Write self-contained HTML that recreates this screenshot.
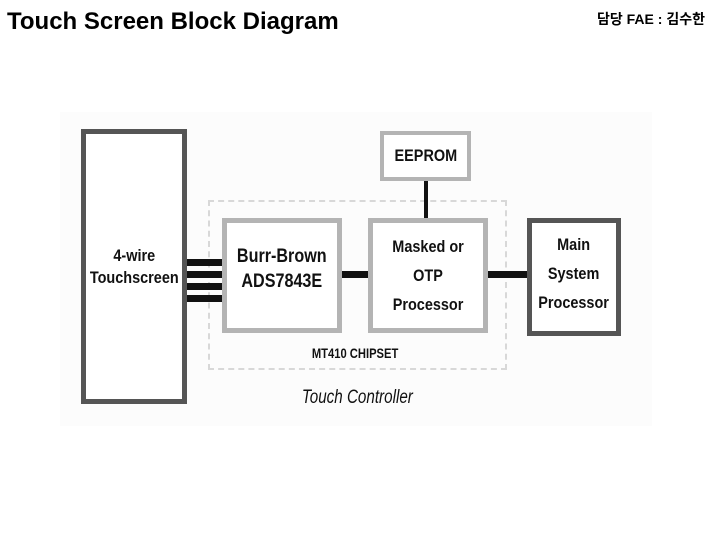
<!DOCTYPE html>
<html><head><meta charset="utf-8"><style>
body{margin:0;width:720px;height:540px;background:#fff;position:relative;overflow:hidden;font-family:"Liberation Sans",sans-serif}
.a{position:absolute;box-sizing:border-box}
.t{display:flex;align-items:center;justify-content:center;text-align:center;font-family:"Liberation Sans Narrow","Liberation Sans",sans-serif;font-weight:bold;color:#111;font-size:17px;line-height:22px;transform-origin:center}
.dk{border:5px solid #555;background:#fff}
.lt{border:5px solid #b4b4b4;background:#fff}
.bar{position:absolute;background:#111}
</style></head><body>
<div class="a" style="left:7px;top:8px;font-size:24px;font-weight:bold;color:#000">Touch Screen Block Diagram</div>
<div class="a" style="left:597px;top:9px;font-size:14px;font-weight:bold;font-family:'Liberation Sans','Noto Sans CJK KR',sans-serif">담당 FAE : 김수한</div>
<div class="a" style="left:60px;top:112px;width:592px;height:314px;background:#fcfcfc"></div>
<div class="a dk t" style="left:81px;top:129px;width:106px;height:275px"><span style="transform:scaleX(.85);display:inline-block">4-wire<br>Touchscreen</span></div>
<div class="a lt t" style="left:380px;top:131px;width:91px;height:50px;border-width:4px"><span style="transform:scaleX(.85);display:inline-block">EEPROM</span></div>
<div class="a" style="left:208px;top:200px;width:299px;height:170px;border:2px dashed #d8d8d8"></div>
<div class="a lt t" style="left:222px;top:218px;width:120px;height:115px;font-size:19px"><span style="transform:scaleX(.85);display:inline-block;margin-top:-14px;line-height:25px">Burr-Brown<br>ADS7843E</span></div>
<div class="a lt t" style="left:368px;top:218px;width:120px;height:115px"><span style="transform:scaleX(.85);display:inline-block;line-height:29px">Masked or<br>OTP<br>Processor</span></div>
<div class="a dk t" style="left:527px;top:218px;width:94px;height:118px"><span style="transform:scaleX(.85);display:inline-block;line-height:29px;margin-top:-8px">Main<br>System<br>Processor</span></div>
<div class="bar" style="left:187px;top:259px;width:35px;height:7px"></div>
<div class="bar" style="left:187px;top:271px;width:35px;height:7px"></div>
<div class="bar" style="left:187px;top:283px;width:35px;height:7px"></div>
<div class="bar" style="left:187px;top:295px;width:35px;height:7px"></div>
<div class="bar" style="left:342px;top:271px;width:26px;height:7px"></div>
<div class="bar" style="left:488px;top:271px;width:39px;height:7px"></div>
<div class="bar" style="left:424px;top:181px;width:4px;height:37px"></div>
<div class="a t" style="left:290px;top:342px;width:130px;height:22px;font-size:14px"><span style="transform:scaleX(.8);display:inline-block">MT410 CHIPSET</span></div>
<div class="a t" style="left:275px;top:387px;width:165px;height:22px;font-size:19px;font-style:italic;font-weight:normal"><span style="transform:scaleX(.8);display:inline-block">Touch Controller</span></div>
</body></html>
